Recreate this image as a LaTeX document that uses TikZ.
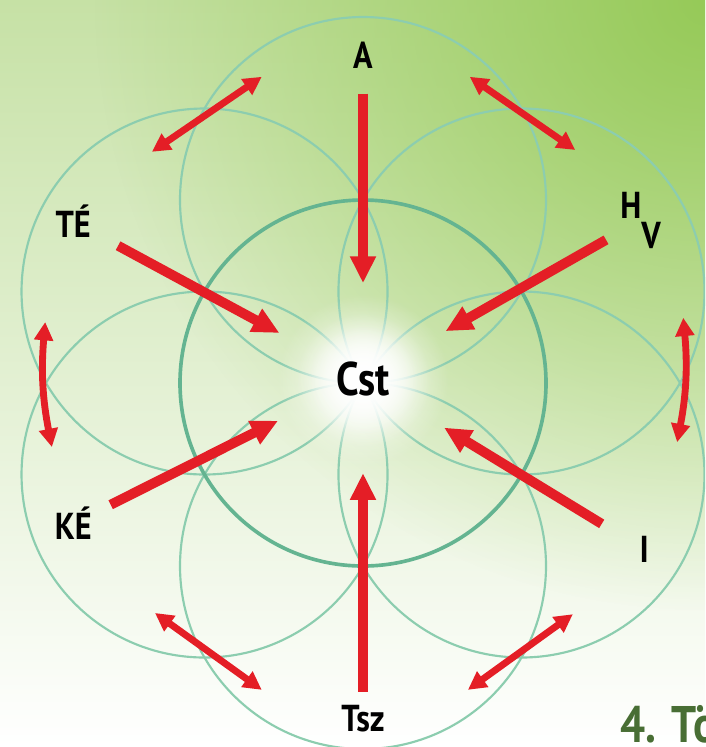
\documentclass[tikz,border=0pt]{standalone}
\usepackage{fontspec}
\setmainfont{PT Sans}[FakeStretch=0.86]
\usetikzlibrary{arrows.meta,fadings}

\definecolor{petal}{RGB}{140,205,175}
\definecolor{core}{RGB}{100,180,145}
\definecolor{arrowred}{RGB}{228,30,38}
\definecolor{bgtop}{RGB}{198,225,165}
\definecolor{bgmid}{RGB}{236,245,228}
\definecolor{bggreen}{RGB}{150,202,88}
\definecolor{capgreen}{RGB}{72,110,52}

\tikzfading[name=glow, inner color=transparent!0, outer color=transparent!100]

\tikzset{
  ray/.style={draw=arrowred, line width=4.6pt, -{Triangle[length=0.44cm,width=0.4cm]}},
  swap/.style={draw=arrowred, line width=3.2pt, {Triangle[length=0.3cm,width=0.3cm]}-{Triangle[length=0.3cm,width=0.3cm]}},
  lbl/.style={font=\bfseries\fontsize{17.5}{18}\selectfont, inner sep=0pt, anchor=base},
}

\begin{document}
\begin{tikzpicture}
\useasboundingbox (-5.951,-5.967) rectangle (5.607,6.279);
\clip (-5.951,-5.967) rectangle (5.607,6.279);

% Background
\shade[top color=bgtop, middle color=bgmid, bottom color=white] (-5.951,-5.967) rectangle (5.607,6.279);
\fill[bggreen, path fading=glow] (5.607,6.279) circle (10);

% Flower
\foreach \a in {30,90,...,330}
  \draw[petal, line width=1pt] (\a:3) circle (3);
\draw[core, line width=1.7pt] (0,0) circle (3);
\fill[white, path fading=glow] (0,0.05) circle (1.4);
\fill[white, path fading=glow] (0,0.05) circle (1.1);
\fill[white, path fading=glow] (0,0.05) circle (0.9);

% Nodes
\node[circle, minimum size=3.1cm, inner sep=0pt] (Cst) at (0,0.08) {};
\node[lbl, font=\bfseries\fontsize{22}{22}\selectfont] (CstText) at (0,-0.2) {Cst};
\node[lbl] (A) at (0,5.16) {A};
\node[lbl] (TE) at (-4.75,2.38) {TÉ};
\node[lbl, anchor=base west] (HV) at (4.21,2.70) {H\raisebox{-14pt}{V}};
\node[lbl] (KE) at (-4.75,-2.57) {KÉ};
\node[lbl] (I) at (4.61,-2.95) {I};
\node[lbl] (Tsz) at (0,-5.72) {Tsz};
\node[lbl, anchor=base west, text=capgreen, font=\bfseries\fontsize{24}{24}\selectfont] (caption) at (4.21,-5.90) {4. Tö};

% Arrows
\draw[ray, shorten <=0.41cm] (A) -- (Cst);
\draw[ray, shorten <=0.5cm] (TE) -- (Cst);
\draw[ray, shorten <=0.26cm] (HV) -- (Cst);
\draw[ray, shorten <=0.34cm] (KE) -- (Cst);
\draw[ray, shorten <=0.72cm] (I) -- (Cst);
\draw[ray, shorten <=0.22cm] (Tsz) -- (Cst);

% Double arrows
\coordinate (tl1) at (-3.46,3.79);
\coordinate (tl2) at (-1.66,5.02);
\coordinate (tr1) at (1.75,5.02);
\coordinate (tr2) at (3.48,3.82);
\coordinate (r1) at (5.25,1.07);
\coordinate (r2) at (5.15,-0.97);
\coordinate (l1) at (-5.21,1.0);
\coordinate (l2) at (-5.10,-1.05);
\coordinate (bl1) at (-3.41,-3.77);
\coordinate (bl2) at (-1.66,-5.03);
\coordinate (br1) at (1.72,-5.03);
\coordinate (br2) at (3.44,-3.79);
\draw[swap] (tl1) -- (tl2);
\draw[swap] (tr1) -- (tr2);
\draw[swap] (r1) to[bend left=8] (r2);
\draw[swap] (l1) to[bend right=8] (l2);
\draw[swap] (bl1) -- (bl2);
\draw[swap] (br1) -- (br2);
\end{tikzpicture}
\end{document}
